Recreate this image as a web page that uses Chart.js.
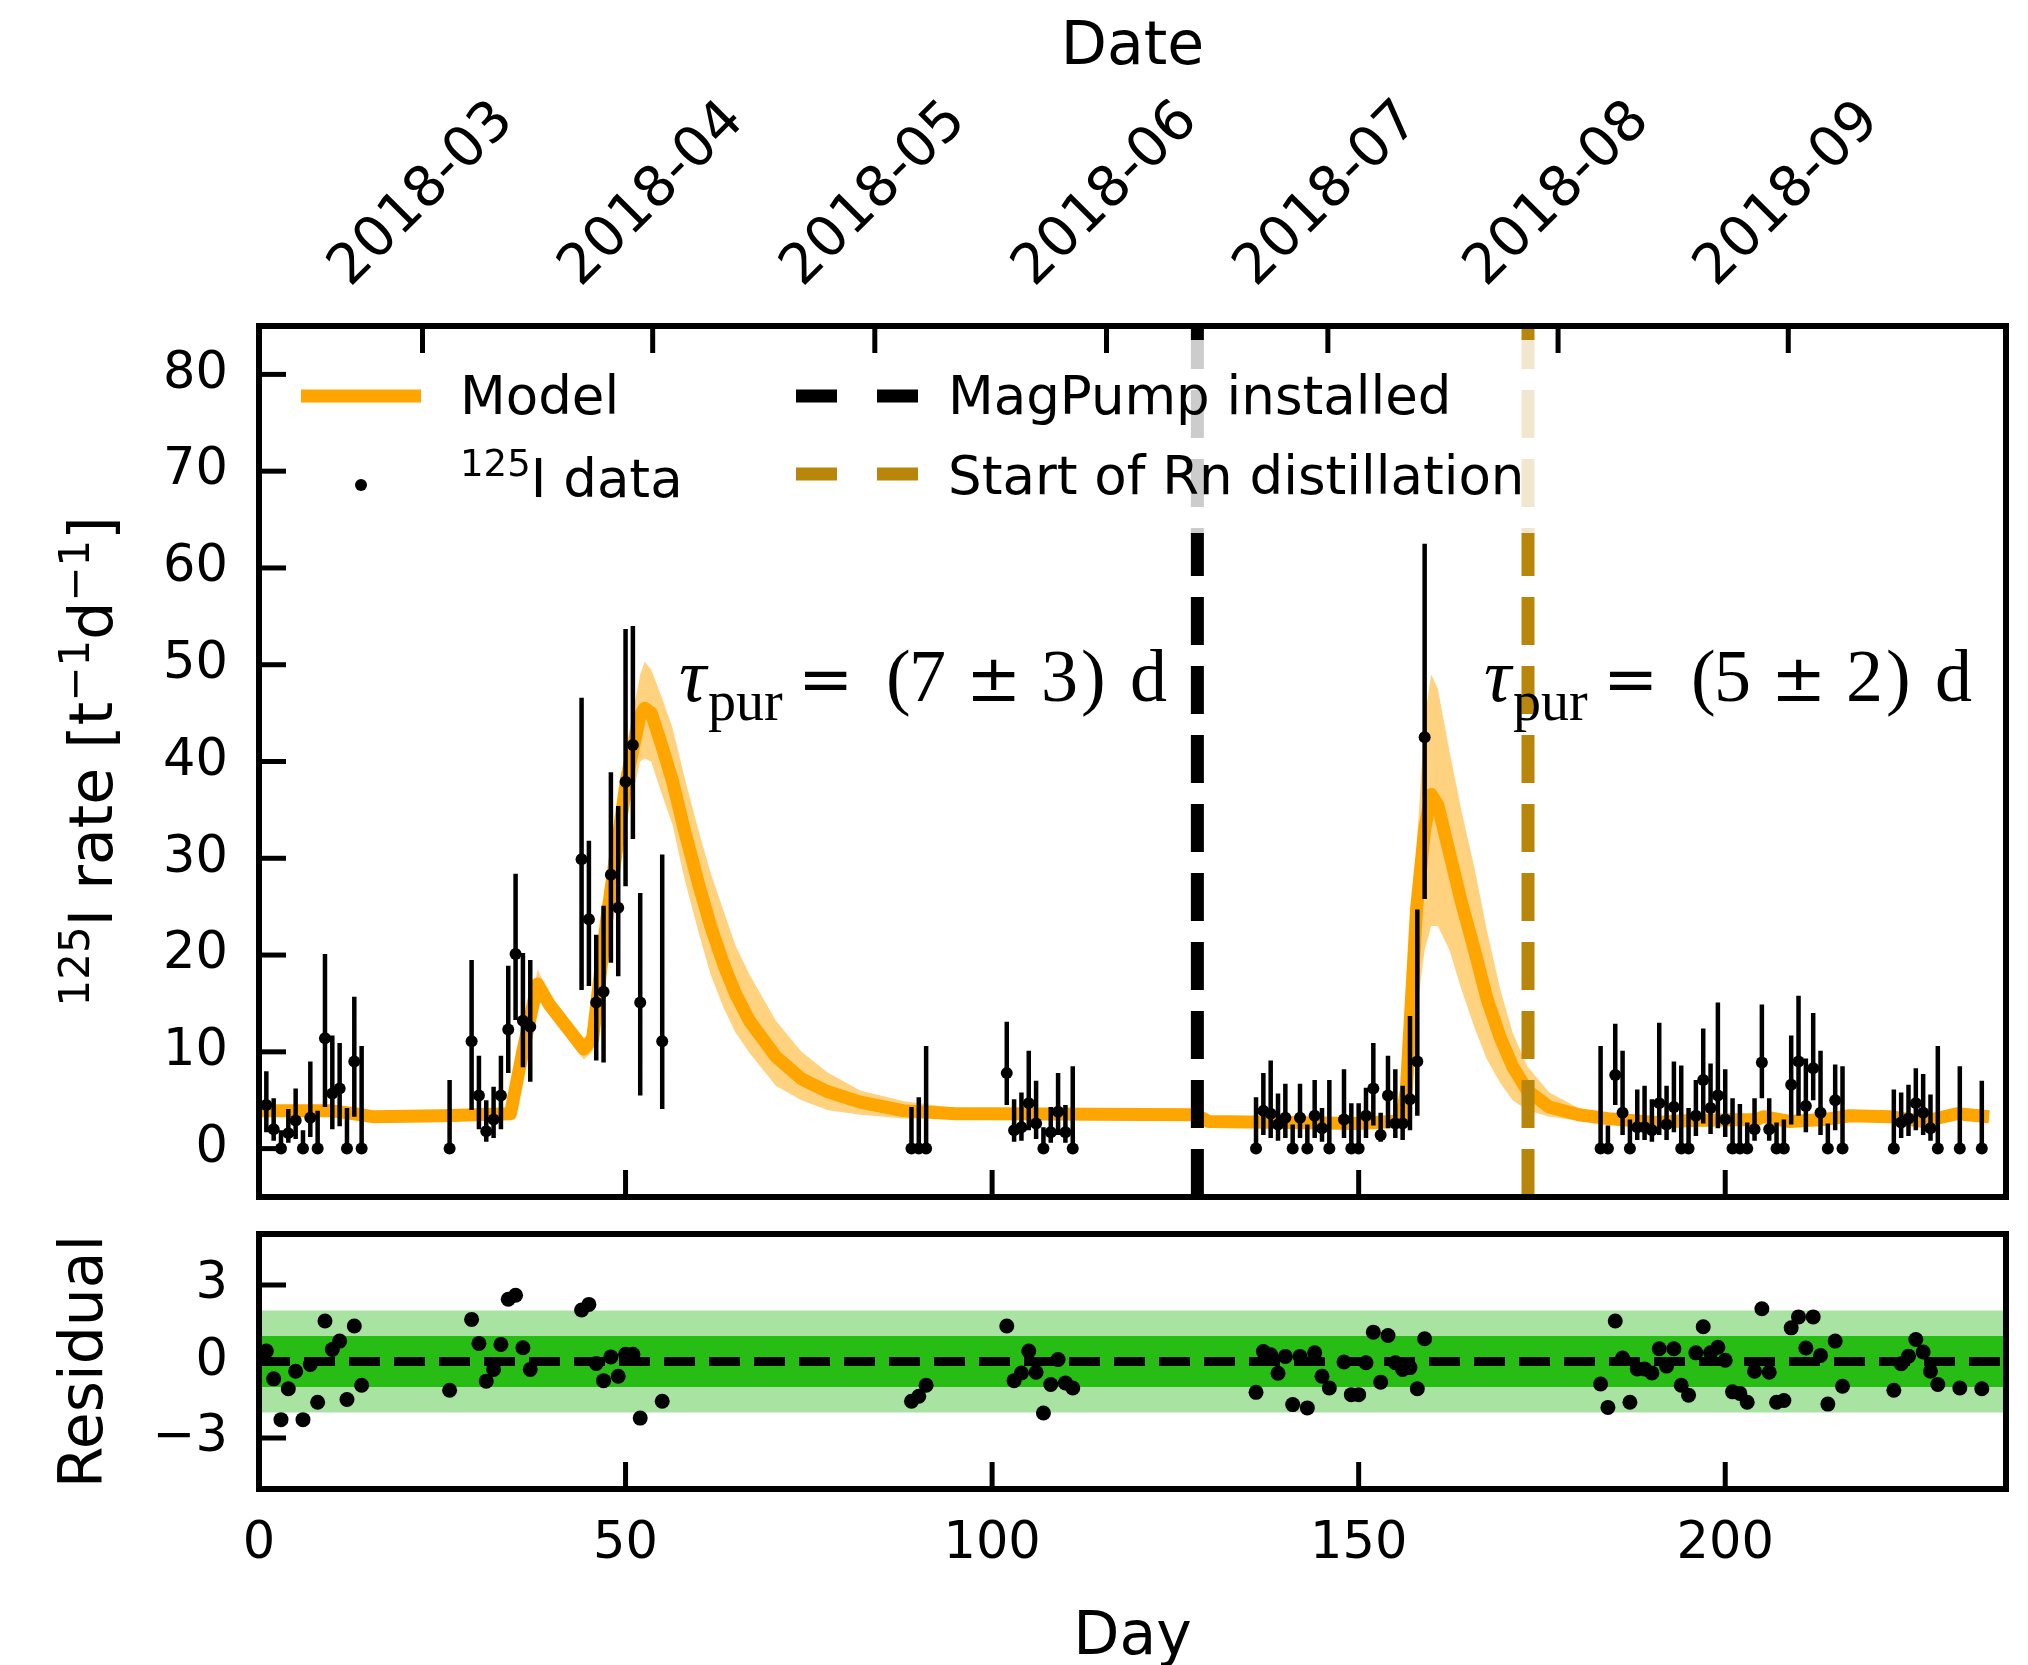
<!DOCTYPE html>
<html>
<head>
<meta charset="utf-8">
<script src="https://cdn.jsdelivr.net/npm/chart.js@4.4.1/dist/chart.umd.min.js"></script>
<style>
  html, body { margin: 0; padding: 0; background: #fff; }
  #wrap { position: relative; width: 2028px; height: 1665px; }
  canvas { position: absolute; left: 0; }
  #mainChart { top: 0; }
  #resChart { top: 1215px; }
</style>
</head>
<body>
<div id="wrap">
  <canvas id="mainChart" width="2028" height="1215"></canvas>
  <canvas id="resChart" width="2028" height="450"></canvas>
</div>
<script>
// --- I-125 data (day, rate, error bar bounds) ---
const days = [
  1, 2, 3, 4, 5, 6, 7, 8, 9, 10, 11, 12, 13, 14,
  26, 29, 30, 31, 32, 33, 34, 35, 36, 37, 44, 45, 46, 47, 48, 49, 50, 51, 52, 55,
  89, 90, 91, 102, 103, 104, 105, 106, 107, 108, 109, 110, 111,
  136, 137, 138, 139, 140, 141, 142, 143, 144, 145, 146, 148, 149, 150, 151, 152, 153, 154, 155, 156, 157, 158, 159,
  183, 184, 185, 186, 187, 188, 189, 190, 191, 192, 193, 194, 195, 196, 197, 198, 199, 200,
  201, 202, 203, 204, 205, 206, 207, 208, 209, 210, 211, 212, 213, 214, 215, 216,
  223, 224, 225, 226, 227, 228, 229, 232, 235
];
const rate = [
  4.5, 2.0, 0, 1.6, 2.9, 0, 3.2, 0, 11.4, 5.7, 6.2, 0, 9.0, 0,
  0, 11.1, 5.5, 1.8, 3.0, 5.5, 12.3, 20.1, 13.2, 12.6, 29.9, 23.7, 15.1, 16.2, 28.3, 24.9, 37.9, 41.7, 15.1, 11.1,
  0, 0, 0, 7.8, 1.9, 2.2, 4.7, 2.6, 0, 1.7, 3.8, 1.7, 0,
  0, 3.9, 3.6, 2.5, 3.2, 0, 3.2, 0, 3.4, 2.1, 0, 3.0, 0, 0, 3.4, 6.2, 1.4, 5.5, 2.6, 2.6, 5.1, 9.0, 42.5,
  0, 0, 7.6, 3.7, 0, 2.2, 2.2, 1.9, 4.7, 2.5, 4.3, 0, 0, 3.4, 7.1, 4.2, 5.5, 3.0,
  0, 0, 0, 2.0, 8.9, 2.0, 0, 0, 6.6, 9.0, 4.4, 8.3, 3.7, 0, 5.0, 0,
  0, 2.7, 3.1, 4.7, 3.7, 2.1, 0, 0, 0
];
const rateLo = [
  1.7, 0.8, 0, 0.6, 1.0, 0, 1.2, 0, 4.3, 2.0, 2.3, 0, 3.3, 0,
  0, 4.0, 2.0, 0.7, 1.1, 2.0, 7.8, 13.3, 8.4, 6.9, 16.4, 16.8, 9.1, 8.9, 19.2, 17.8, 27.1, 32.0, 5.5, 4.1,
  0, 0, 0, 4.5, 0.7, 0.8, 1.9, 1.0, 0, 0.6, 1.4, 0.6, 0,
  0, 1.4, 1.1, 0.8, 1.1, 0, 1.1, 0, 1.1, 0.7, 0, 1.1, 0, 0, 1.1, 2.4, 0.7, 2.1, 1.1, 0.9, 1.9, 3.4, 25.8,
  0, 0, 4.5, 1.4, 0, 0.9, 0.9, 0.7, 1.4, 0.9, 1.7, 0, 0, 1.3, 2.6, 1.5, 2.1, 1.2,
  0, 0, 0, 0.8, 5.2, 0.8, 0, 0, 2.5, 3.4, 1.7, 5.0, 1.4, 0, 1.9, 0,
  0, 1.1, 1.3, 1.9, 1.4, 0.8, 0, 0, 0
];
const rateHi = [
  8.0, 5.2, 1.9, 4.1, 6.2, 1.9, 9.0, 3.9, 20.1, 11.7, 10.9, 4.2, 15.7, 10.6,
  7.1, 19.5, 9.6, 5.0, 6.4, 9.6, 18.9, 28.4, 20.2, 19.5, 46.6, 31.8, 22.1, 25.1, 38.9, 35.4, 53.7, 54.0, 26.4, 30.4,
  4.3, 5.3, 10.6, 13.1, 5.1, 5.8, 10.1, 7.0, 2.2, 4.3, 7.8, 4.5, 8.5,
  5.3, 7.8, 9.1, 5.7, 6.7, 2.5, 6.7, 2.5, 7.1, 4.2, 7.1, 8.2, 4.7, 4.7, 6.3, 10.9, 3.7, 9.6, 8.2, 6.5, 13.7, 24.7, 62.5,
  10.6, 2.4, 12.9, 10.1, 3.0, 6.1, 6.5, 5.1, 13.0, 6.5, 9.0, 8.6, 4.2, 7.1, 12.4, 8.8, 15.1, 8.2,
  5.2, 4.6, 2.7, 5.2, 14.9, 5.2, 2.7, 3.0, 11.7, 15.8, 9.3, 14.0, 10.1, 2.6, 8.7, 8.5,
  6.1, 5.8, 6.6, 8.3, 7.7, 5.6, 10.6, 8.5, 7.0
];
const residual = [
  0.41, -0.68, -2.28, -1.07, -0.38, -2.28, -0.12, -1.6, 1.59, 0.47, 0.80, -1.49, 1.39, -0.93,
  -1.13, 1.65, 0.71, -0.77, -0.31, 0.67, 2.44, 2.6, 0.54, -0.31, 2.02, 2.24, -0.08, -0.75, 0.18, -0.58, 0.28, 0.28, -2.22, -1.56,
  -1.56, -1.36, -0.93, 1.39, -0.75, -0.45, 0.41, -0.42, -2.02, -0.9, 0.08, -0.84, -1.04,
  -1.21, 0.39, 0.26, -0.46, 0.20, -1.69, 0.20, -1.82, 0.34, -0.58, -1.04, -0.02, -1.3, -1.3, -0.05, 1.15, -0.81, 1.02, -0.05, -0.31, -0.24, -1.07, 0.89,
  -0.88, -1.80, 1.59, 0.14, -1.60, -0.29, -0.29, -0.45, 0.50, -0.18, 0.50, -0.93, -1.32, 0.34, 1.36, 0.34, 0.56, 0.05,
  -1.19, -1.25, -1.6, -0.38, 2.07, -0.42, -1.6, -1.53, 1.32, 1.75, 0.53, 1.75, 0.24, -1.67, 0.80, -0.97,
  -1.13, -0.09, 0.21, 0.86, 0.37, -0.38, -0.9, -1.04, -1.07
];

// --- model curve with its uncertainty band ---
const modelDays = [0, 10, 13, 15.5, 25, 34.3, 36, 38, 39.6, 44.3, 45.5, 47.4, 50.1, 52.0, 52.6, 53.5, 55, 56.4, 58,
  59.9, 61.6, 63.4, 65, 66.9, 70.5, 74, 77.5, 82, 88, 95, 100, 127.8, 129.5, 140, 150, 155.8, 156.5, 157.9, 159, 159.9,
  160.8, 162.4, 164, 165.8, 167.5, 169.3, 171, 173, 176, 180, 184, 190.6, 195.2, 204.3, 205.2, 208.8, 213.4, 217,
  222.5, 227, 231.6, 236];
const modelMid = [3.9, 3.9, 3.6, 3.3, 3.4, 3.6, 10.1, 17.0, 14.9, 10.3, 11.3, 23.5, 38.0, 44.8, 45.5, 45.0, 41.5, 38.0, 33.0,
  27.5, 23.0, 19.0, 16.0, 13.2, 9.5, 7.2, 5.9, 4.8, 3.9, 3.6, 3.6, 3.5, 2.8, 2.7, 2.6, 2.85, 6.0, 24.8, 33.0, 36.6,
  35.5, 30.5, 25.5, 20.5, 15.5, 11.5, 8.5, 6.0, 4.3, 3.5, 3.1, 2.7, 2.9, 3.0, 3.3, 2.8, 3.0, 3.4,
  3.3, 2.8, 3.6, 3.3];
const modelLow = [3.7, 3.7, 3.4, 3.1, 3.2, 3.4, 9.2, 16.0, 13.8, 9.2, 10.0, 21.0, 34.0, 40.0, 40.3, 40.0, 36.5, 33.5, 28.0,
  22.5, 18.0, 14.5, 12.0, 9.9, 6.5, 5.0, 4.0, 3.5, 3.1, 3.2, 3.4, 3.3, 2.6, 2.5, 2.4, 2.6, 4.5, 14.0, 20.5, 23.0,
  23.0, 20.5, 16.5, 12.5, 9.2, 6.8, 5.0, 4.0, 3.3, 2.9, 2.8, 2.5, 2.7, 2.8, 3.1, 2.6, 2.8, 3.2,
  3.1, 2.6, 3.4, 3.1];
const modelHigh = [4.1, 4.1, 3.8, 3.5, 3.6, 3.8, 11.0, 18.5, 16.0, 11.4, 12.6, 26.0, 41.5, 49.0, 50.3, 49.5, 46.5, 43.5, 38.5,
  33.0, 28.5, 24.5, 21.0, 18.0, 13.2, 10.0, 7.9, 6.0, 4.9, 4.2, 3.9, 3.7, 3.0, 2.9, 2.8, 3.1, 8.0, 31.0, 44.5, 49.0,
  47.5, 41.0, 35.0, 29.0, 22.5, 16.5, 12.0, 8.5, 5.8, 4.2, 3.5, 2.9, 3.1, 3.2, 3.5, 3.0, 3.2, 3.6,
  3.5, 3.0, 3.8, 3.5];

// --- markers, axes and ticks ---
const magPumpDay = 128.0;
const distillDay = 173.1;
const sigmaBands = [1, 2];
const xRange = [0, 238.3];
const rateRange = [-5, 85];
const resRange = [-5, 5];
const dayTicks = [0, 50, 100, 150, 200];
const rateTicks = [0, 10, 20, 30, 40, 50, 60, 70, 80];
const resTicks = [-3, 0, 3];
const dateTickDays = [22.3, 53.7, 84.0, 115.6, 145.8, 177.2, 208.6];
const dateTickLabels = ['2018-03', '2018-04', '2018-05', '2018-06', '2018-07', '2018-08', '2018-09'];
const tauNotes = [
  { day: 57.3, rate: 46.2, val: '7', err: '3' },
  { day: 167.1, rate: 46.2, val: '5', err: '2' }
];

const ORANGE = '#FFA500';
const BAND = 'rgba(255, 165, 0, 0.5)';
const GOLD = '#B8860B';
const SANS = '"DejaVu Sans", sans-serif';
const SERIF = '"Liberation Serif", "DejaVu Serif", serif';
const MATHSYM = '"DejaVu Serif", serif';

Chart.defaults.color = '#000';
Chart.defaults.font.family = SANS;

const pts = (xs, ys) => xs.map((x, i) => ({ x: x, y: ys[i] }));

// error bars as one broken line through the scales
const errBars = [];
days.forEach((d, i) => {
  errBars.push({ x: d, y: rateLo[i] }, { x: d, y: rateHi[i] }, { x: d, y: null });
});

function strokeLine(ctx, x1, y1, x2, y2) {
  ctx.beginPath(); ctx.moveTo(x1, y1); ctx.lineTo(x2, y2); ctx.stroke();
}

// inward ticks + box spines, like the matplotlib frame
function drawFrame(chart, yTicks, topTicks) {
  const { ctx, chartArea: a, scales } = chart;
  ctx.save();
  ctx.strokeStyle = '#000';
  ctx.lineWidth = 5;
  dayTicks.forEach(v => { const p = scales.x.getPixelForValue(v); strokeLine(ctx, p, a.bottom, p, a.bottom - 27); });
  yTicks.forEach(v => { const p = scales.y.getPixelForValue(v); strokeLine(ctx, a.left, p, a.left + 27, p); });
  if (topTicks) {
    topTicks.forEach(v => { const p = scales.xTop.getPixelForValue(v); strokeLine(ctx, p, a.top, p, a.top + 27); });
  }
  ctx.lineWidth = 6;
  ctx.strokeRect(a.left, a.top, a.right - a.left, a.bottom - a.top);
  ctx.restore();
}

// text with superscripts, drawn run by run
function richWidth(ctx, runs, size, family) {
  let w = 0;
  runs.forEach(r => {
    ctx.font = `${r.sup ? size * 0.7 : size}px ${family}`;
    w += ctx.measureText(r.t).width;
  });
  return w;
}
function drawRich(ctx, runs, x, y, size, family) {
  let cx = x;
  runs.forEach(r => {
    ctx.font = `${r.sup ? size * 0.7 : size}px ${family}`;
    ctx.fillText(r.t, cx, r.sup ? y - size * 0.39 : y);
    cx += ctx.measureText(r.t).width;
  });
}

const rateLabel = [{ t: '125', sup: true }, { t: 'I rate [t' }, { t: '\u22121', sup: true }, { t: 'd' }, { t: '\u22121', sup: true }, { t: ']' }];
const dataLabel = [{ t: '125', sup: true }, { t: 'I data' }];

function drawLegend(chart) {
  const { ctx, chartArea: a } = chart;
  const L = a.left, T = a.top;
  ctx.save();
  ctx.fillStyle = 'rgba(255,255,255,0.8)';
  ctx.beginPath();
  ctx.roundRect(L + 19, T + 14, 1274, 193, 10);
  ctx.fill();

  ctx.lineCap = 'butt';
  ctx.lineWidth = 13;
  ctx.strokeStyle = ORANGE;
  strokeLine(ctx, L + 42, T + 70, L + 162, T + 70);
  ctx.fillStyle = '#000';
  ctx.beginPath(); ctx.arc(L + 102, T + 159, 6, 0, Math.PI * 2); ctx.fill();

  ctx.strokeStyle = '#000';
  strokeLine(ctx, L + 537, T + 70, L + 578, T + 70);
  strokeLine(ctx, L + 618, T + 70, L + 659, T + 70);
  ctx.strokeStyle = GOLD;
  strokeLine(ctx, L + 537, T + 148, L + 578, T + 148);
  strokeLine(ctx, L + 618, T + 148, L + 659, T + 148);

  ctx.textAlign = 'left';
  ctx.textBaseline = 'alphabetic';
  ctx.font = `53px ${SANS}`;
  ctx.fillText('Model', L + 201, T + 88);
  ctx.fillText('MagPump installed', L + 689, T + 88);
  ctx.fillText('Start of Rn distillation', L + 689, T + 168);
  drawRich(ctx, dataLabel, L + 201, T + 171, 53, SANS);
  ctx.restore();
}

function drawTau(chart) {
  const { ctx, scales } = chart;
  ctx.save();
  ctx.fillStyle = '#000';
  ctx.textAlign = 'left';
  ctx.textBaseline = 'alphabetic';
  tauNotes.forEach(n => {
    const x0 = scales.x.getPixelForValue(n.day);
    const y0 = scales.y.getPixelForValue(n.rate);
    ctx.font = `italic 76px ${SERIF}`;
    ctx.fillText('\u03C4', x0, y0);
    ctx.font = `56px ${SERIF}`;
    ctx.fillText('pur', x0 + 29, y0 + 19);
    ctx.font = `66px ${MATHSYM}`;
    ctx.fillText('=', x0 + 119, y0);
    ctx.fillText('\u00B1', x0 + 287, y0);
    ctx.font = `74px ${SERIF}`;
    [['(', 207], [n.val, 230], [n.err, 362], [')', 402], ['d', 451]]
      .forEach(([s, dx]) => ctx.fillText(s, x0 + dx, y0));
  });
  ctx.restore();
}

function drawDates(chart) {
  const { ctx, chartArea: a, scales } = chart;
  ctx.save();
  ctx.fillStyle = '#000';
  ctx.font = `56px ${SANS}`;
  ctx.textAlign = 'center';
  ctx.textBaseline = 'middle';
  dateTickDays.forEach((d, i) => {
    ctx.save();
    ctx.translate(scales.xTop.getPixelForValue(d), a.top - 131);
    ctx.rotate(-Math.PI / 4);
    ctx.fillText(dateTickLabels[i], 0, 0);
    ctx.restore();
  });
  // y label with superscripts
  const w = richWidth(ctx, rateLabel, 60, SANS);
  ctx.translate(112, (a.top + a.bottom) / 2);
  ctx.rotate(-Math.PI / 2);
  ctx.textAlign = 'left';
  ctx.textBaseline = 'alphabetic';
  drawRich(ctx, rateLabel, -w / 2, 0, 60, SANS);
  ctx.restore();
}

const mainDecor = {
  id: 'mainDecor',
  afterDatasetsDraw(chart) { drawLegend(chart); drawTau(chart); },
  afterDraw(chart) { drawFrame(chart, rateTicks, dateTickDays); drawDates(chart); }
};

const setTicks = vals => scale => { scale.ticks = vals.map(v => ({ value: v })); };
const noPad = s => { s.paddingTop = 0; s.paddingBottom = 0; s.paddingLeft = 0; s.paddingRight = 0; };

new Chart(document.getElementById('mainChart'), {
  type: 'line',
  data: {
    datasets: [
      { data: pts(modelDays, modelHigh), fill: '+1', backgroundColor: BAND, borderWidth: 0, pointRadius: 0, order: 6 },
      { data: pts(modelDays, modelLow), fill: false, borderWidth: 0, pointRadius: 0, order: 6 },
      { data: pts(modelDays, modelMid), borderColor: ORANGE, borderWidth: 13, pointRadius: 0, fill: false,
        borderJoinStyle: 'round', order: 5 },
      { data: [{ x: magPumpDay, y: rateRange[0] }, { x: magPumpDay, y: rateRange[1] }], borderColor: '#000',
        borderWidth: 13, borderDash: [48, 21], pointRadius: 0, fill: false, order: 4 },
      { data: [{ x: distillDay, y: rateRange[0] }, { x: distillDay, y: rateRange[1] }], borderColor: GOLD,
        borderWidth: 13, borderDash: [48, 21], pointRadius: 0, fill: false, order: 4 },
      { data: errBars, borderColor: '#000', borderWidth: 4.5, pointRadius: 0, spanGaps: false, fill: false, order: 2 },
      { data: pts(days, rate), showLine: false, pointRadius: 6, pointBorderWidth: 0,
        pointBackgroundColor: '#000', order: 1 }
    ]
  },
  options: {
    responsive: false,
    animation: false,
    devicePixelRatio: 1,
    layout: { padding: { left: 0, right: 22, top: 0, bottom: 0 } },
    plugins: { legend: { display: false }, tooltip: { enabled: false } },
    scales: {
      x: {
        type: 'linear', position: 'bottom', min: xRange[0], max: xRange[1],
        grid: { display: false, drawTicks: false }, border: { display: false },
        ticks: { display: false },
        afterBuildTicks: setTicks(dayTicks),
        afterFit: s => { s.height = 18; noPad(s); }
      },
      xTop: {
        type: 'linear', position: 'top', min: xRange[0], max: xRange[1],
        grid: { display: false, drawTicks: false }, border: { display: false },
        ticks: { display: false },
        title: { display: true, text: 'Date', font: { size: 60 }, padding: { top: 12, bottom: 0 } },
        afterBuildTicks: setTicks(dateTickDays),
        afterFit: s => { s.height = 326; noPad(s); }
      },
      y: {
        type: 'linear', position: 'left', min: rateRange[0], max: rateRange[1],
        grid: { display: false, drawTicks: false }, border: { display: false },
        ticks: { font: { size: 51 }, padding: 31 },
        afterBuildTicks: setTicks(rateTicks),
        afterFit: s => { s.width = 259; noPad(s); }
      }
    }
  },
  plugins: [mainDecor]
});

// --- residual panel ---
const bandLine = lvl => [{ x: xRange[0], y: lvl }, { x: xRange[1], y: lvl }];

new Chart(document.getElementById('resChart'), {
  type: 'line',
  data: {
    datasets: [
      { data: pts(days, residual), showLine: false, pointRadius: 7.5, pointBorderWidth: 0,
        pointBackgroundColor: '#000', order: 1 },
      { data: bandLine(0), borderColor: '#000', borderWidth: 9, borderDash: [31, 14], pointRadius: 0,
        fill: false, order: 2 },
      { data: bandLine(sigmaBands[0]), borderWidth: 0, pointRadius: 0, fill: { value: -sigmaBands[0] },
        backgroundColor: '#28BD14', order: 3 },
      { data: bandLine(sigmaBands[1]), borderWidth: 0, pointRadius: 0, fill: { value: -sigmaBands[1] },
        backgroundColor: '#A9E3A2', order: 4 }
    ]
  },
  options: {
    responsive: false,
    animation: false,
    devicePixelRatio: 1,
    layout: { padding: { left: 0, right: 22, top: 19, bottom: 0 } },
    plugins: { legend: { display: false }, tooltip: { enabled: false } },
    scales: {
      x: {
        type: 'linear', position: 'bottom', min: xRange[0], max: xRange[1],
        grid: { display: false, drawTicks: false }, border: { display: false },
        ticks: { font: { size: 51 }, padding: 25, maxRotation: 0 },
        title: { display: true, text: 'Day', font: { size: 60, lineHeight: 0.9 }, padding: { top: 0, bottom: 0 } },
        afterBuildTicks: setTicks(dayTicks),
        afterFit: s => { s.height = 176; noPad(s); }
      },
      y: {
        type: 'linear', position: 'left', min: resRange[0], max: resRange[1],
        grid: { display: false, drawTicks: false }, border: { display: false },
        ticks: { font: { size: 51 }, padding: 31, callback: v => (v < 0 ? '\u2212' + Math.abs(v) : String(v)) },
        title: { display: true, text: 'Residual', font: { size: 60 }, padding: { top: 50, bottom: 0 } },
        afterBuildTicks: setTicks(resTicks),
        afterFit: s => { s.width = 259; noPad(s); }
      }
    }
  },
  plugins: [{ id: 'resFrame', afterDraw(chart) { drawFrame(chart, resTicks, null); } }]
});
</script>
</body>
</html>
